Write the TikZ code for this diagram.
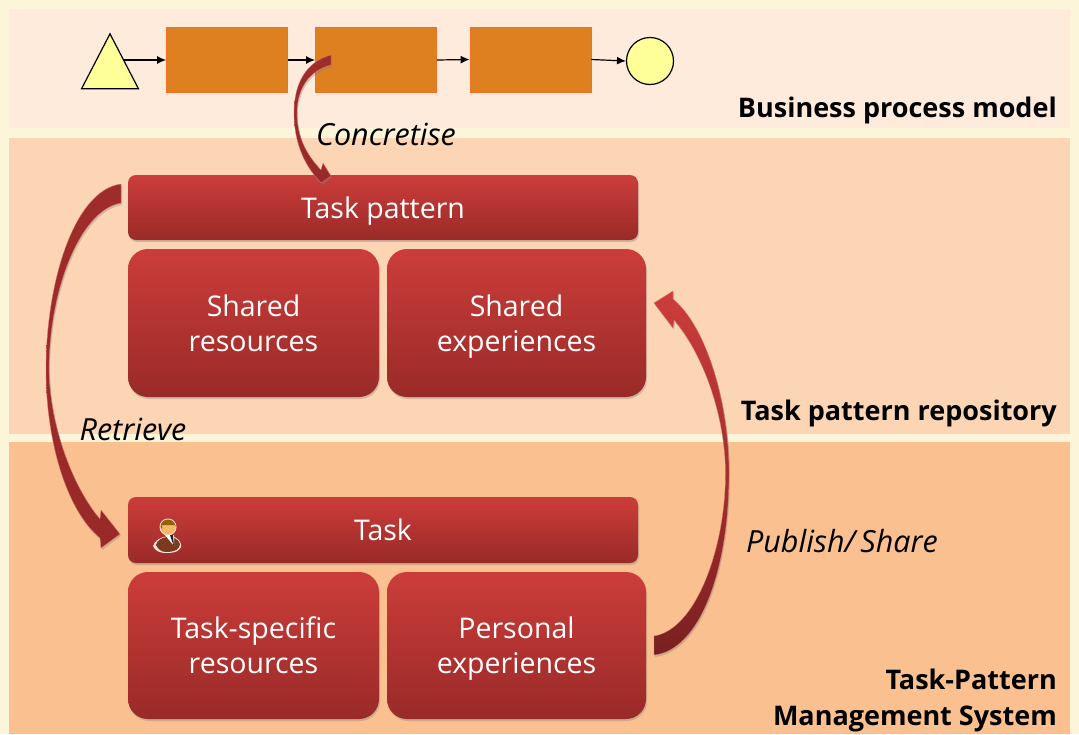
\documentclass[tikz,border=0pt]{standalone}
\usepackage{fontspec}
\setmainfont{Open Sans}
\usepackage{tikz}
\usetikzlibrary{arrows.meta,shadows,shapes.geometric}

\definecolor{pagecol}{HTML}{FDF5DA}
\definecolor{modelcol}{HTML}{FEEBDC}
\definecolor{repocol}{HTML}{FCD5B5}
\definecolor{systemcol}{HTML}{FAC090}
\definecolor{activcol}{HTML}{DF8020}
\definecolor{activline}{HTML}{F07028}
\definecolor{eventcol}{HTML}{FFFF99}
\definecolor{redtop}{HTML}{CC3D3A}
\definecolor{redmid}{HTML}{BE3836}
\definecolor{redlow}{HTML}{992A28}
\definecolor{reddark}{HTML}{7A2020}
\definecolor{coatcol}{HTML}{7B3A1E}
\definecolor{skincol}{HTML}{F2B866}
\definecolor{haircol}{HTML}{8F6408}
\definecolor{tiecol}{HTML}{14282E}

\newcommand{\boxline}{\rule[-7pt]{0pt}{35pt}}

\tikzset{
    redshadow/.style={drop shadow={opacity=.35,shadow xshift=1pt,shadow yshift=-2pt}},
    bar/.style={rounded corners=8pt,top color=redtop,middle color=redmid,bottom color=redlow,
        redshadow,text=white,font=\fontsize{28.5}{35}\selectfont,align=center,inner sep=0pt},
    block/.style={bar,rounded corners=20pt},
    activity/.style={draw=activline,fill=activcol,line width=.8pt,minimum height=65pt,minimum width=121pt,inner sep=0pt},
    flow/.style={-{Latex[length=9pt,width=8pt]},line width=1.2pt},
    layer/.style={font=\bfseries\fontsize{27}{36}\selectfont,anchor=east,align=right,inner sep=0pt},
    verb/.style={font=\itshape\fontsize{30.5}{34}\selectfont,inner sep=0pt},
    crescent/.style={redshadow,draw=redtop!70!white,line width=.3pt}
}

\begin{document}
\begin{tikzpicture}[x=1pt,y=-1pt]
    \useasboundingbox (0,0) rectangle (1079,734);
    \fill[pagecol]     (0,0) rectangle (1079,734);
    \fill[modelcol]    (9,9) rectangle (1070,128);
    \fill[repocol]     (9,138) rectangle (1070,434);
    \fill[systemcol]   (9,442) rectangle (1070,734);

    % process model
    \node[isosceles triangle,isosceles triangle apex angle=54,isosceles triangle stretches,
        shape border rotate=90,draw,fill=eventcol,line width=1.2pt,minimum width=57pt,minimum height=55pt,inner sep=0pt]
        (start) at (110,71.5) {};
    \node[activity] (first) at (227,60) {};
    \node[activity] (second) at (376,60) {};
    \node[activity] (third) at (530.5,59.5) {};
    \node[circle,draw,fill=eventcol,line width=1.2pt,minimum size=47pt,inner sep=0pt] (stop) at (650,61) {};
    \coordinate (startout) at (124,60);
    \draw[flow] (startout) -- (first.west);
    \draw[flow] (first.east) -- (second.west);
    \draw[flow] (second.east) -- (third.west);
    \draw[flow] (third.east) -- (stop.west);

    % repository
    \node[bar,minimum width=510pt,minimum height=65pt] (pattern) at (383,207.5) {Task pattern\boxline};
    \node[block,minimum width=251pt,minimum height=148pt] (sharedres) at (253.5,323) {Shared\boxline\\resources\boxline};
    \node[block,minimum width=259pt,minimum height=148pt] (sharedexp) at (516.5,323) {Shared\boxline\\experiences\boxline};

    % task management system
    \node[bar,minimum width=510pt,minimum height=66pt] (task) at (383,530) {Task\boxline};
    \node[block,minimum width=251pt,minimum height=147pt] (taskres) at (253.5,645.5) {Task-specific\boxline\\resources\boxline};
    \node[block,minimum width=259pt,minimum height=147pt] (personal) at (516.5,645.5) {Personal\boxline\\experiences\boxline};

    % user icon
    \fill[white!85!redtop] (153,546) .. controls (156,535) and (178,532) .. (181,544) .. controls (182,551) and (175,553) .. (166,553) .. controls (160,553) and (155,551) .. (153,546) -- cycle;
    \fill[coatcol] (156,545) .. controls (158,535) and (177,534) .. (180,544) .. controls (180,549) and (175,552) .. (166,552) .. controls (161,552) and (158,549) .. (156,545) -- cycle;
    \fill[white] (165,535) -- (174,535) -- (174,546) -- cycle;
    \fill[tiecol] (170,535) -- (173,535) -- (174,547) -- cycle;
    \fill[white!80!orange] (168,527) circle (8.5);
    \fill[skincol] (168,527) circle (7.5);
    \fill[haircol] (160.5,527) arc (180:360:7.5) -- (175.5,525) -- (162,525) -- (162,529) -- cycle;

    % curved arrows
    \shade[crescent,top color=redlow!90!redtop,middle color=redtop!85!black,bottom color=redlow]
        (331,55) .. controls (305,62) and (294,85) .. (294,113)
        .. controls (294,140) and (303,162) .. (316,177)
        -- (321,183) -- (331,176) -- (323,163) -- (321,170)
        .. controls (307,155) and (297,138) .. (297,113)
        .. controls (297,88) and (310,70) .. (331,65) -- cycle;
    \shade[crescent,top color=redlow!90!redtop,middle color=redtop!95!black,bottom color=redlow]
        (121,184) .. controls (75,190) and (46,280) .. (46,370)
        .. controls (46,440) and (66,510) .. (100,538)
        -- (101,548) -- (120,534) -- (101,510) -- (100,519)
        .. controls (75,490) and (50,430) .. (49,370)
        .. controls (49,290) and (80,210) .. (121,203) -- cycle;
    \shade[crescent,top color=redtop,middle color=redtop,bottom color=reddark]
        (654,655) .. controls (700,650) and (729,570) .. (729,473)
        .. controls (729,400) and (705,325) .. (673,299)
        -- (673,291) -- (654,303) -- (673,328) -- (674,320)
        .. controls (700,350) and (725,410) .. (725.5,473)
        .. controls (725.5,550) and (695,630) .. (654,636) -- cycle;

    % labels
    \node[verb] (concretise) at (386,134.5) {Concretise};
    \node[verb] (retrieve) at (133,429.5) {Retrieve};
    \node[verb] (publish) at (842,541) {Publish/\,Share};
    \node[layer] (modellabel) at (1057,110) {Business process model};
    \node[layer] (repolabel) at (1057,413) {Task pattern repository};
    \node[layer] (systemlabel) at (1057,700) {Task-Pattern\\Management System};
\end{tikzpicture}
\end{document}
